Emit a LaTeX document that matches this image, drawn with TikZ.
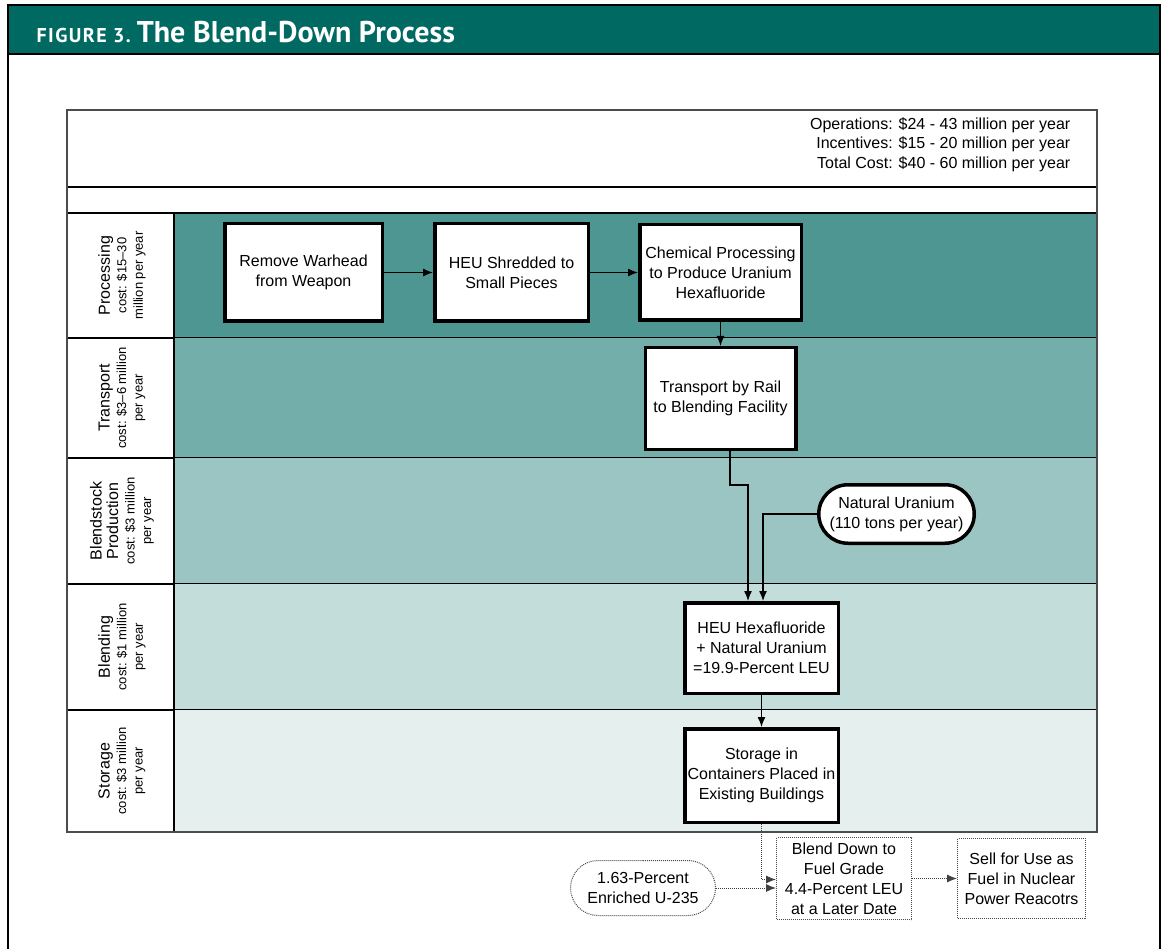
\documentclass[tikz,border=0pt]{standalone}
\usepackage{fontspec}
\setmainfont{Liberation Sans}
\newfontfamily\titlefont{PT Sans}
\newfontfamily\capsfont[LetterSpace=7]{PT Sans}
\usetikzlibrary{arrows.meta, shapes, positioning}
\definecolor{headteal}{RGB}{0,106,98}
\definecolor{laneA}{RGB}{78,150,145}
\definecolor{laneB}{RGB}{115,174,170}
\definecolor{laneC}{RGB}{155,197,194}
\definecolor{laneD}{RGB}{194,221,218}
\definecolor{laneE}{RGB}{228,239,238}

\begin{document}
\begin{tikzpicture}[x=1pt,y=-1pt,>={Latex[length=10pt,width=8pt]},line width=1.3pt]

	\tikzset{box st/.style={draw, line width=3.5pt, fill=white,
			align=center, inner sep=2pt,
			font=\fontsize{16}{20}\selectfont}}
	\tikzset{box dot/.style={draw=black!70, densely dotted, line width=1pt,
			fill=white, align=center, inner sep=2pt,
			font=\fontsize{16}{20}\selectfont}}
	\tikzset{lane lbl/.style={rotate=90, align=center,
			font=\fontsize{13}{16.5}\selectfont}}

	\useasboundingbox (0,0) rectangle (1162,949);
	\fill[white] (0,0) rectangle (1162,949);

	% frame and title
	\fill[headteal] (8,5) rectangle (1160,54);
	\draw[line width=1.6pt] (8,960) -- (8,5) -- (1160,5) -- (1160,960);
	\draw[line width=1.6pt] (8,54) -- (1160,54);
	\node[anchor=west, text=white, inner sep=0pt] (title) at (36,32)
	{{\capsfont\bfseries\fontsize{20}{20}\selectfont FIGURE 3.}\hspace{6pt}{\titlefont\bfseries\fontsize{30}{32}\selectfont The Blend-Down Process}};

	% swimlanes
	\foreach \ya/\yb/\col/\txt in {
		213/338/laneA/{{\fontsize{16}{20}\selectfont Processing}\\cost: \$15--30\\million per year},
		338/458/laneB/{{\fontsize{16}{20}\selectfont Transport}\\cost: \$3--6 million\\per year},
		458/584/laneC/{{\fontsize{16}{19}\selectfont Blendstock}\\{\fontsize{16}{20}\selectfont Production}\\cost: \$3 million\\per year},
		584/710/laneD/{{\fontsize{16}{20}\selectfont Blending}\\cost: \$1 million\\per year},
		710/832/laneE/{{\fontsize{16}{20}\selectfont Storage}\\cost: \$3 million\\per year}} {
		\fill[\col] (174,\ya) rectangle (1097,\yb);
		\draw[line width=1.2pt] (67,\yb) -- (1097,\yb);
		\draw[line width=1.2pt] (174,\ya) -- (174,\yb);
		\node[lane lbl] at (122,{(\ya+\yb)/2}) {\txt};
	}
	\draw[line width=1.2pt] (67,187) -- (1097,187);
	\draw[line width=1.2pt] (67,213) -- (1097,213);
	\draw[line width=1.8pt, draw=black!70] (67,110) rectangle (1097,832);

	\node[anchor=north east, align=right, inner sep=0pt,
	font=\fontsize{16}{19.5}\selectfont] (cost) at (1071,117)
	{Operations: \$24 - 43 million per year\\
		Incentives: \$15 - 20 million per year\\
		Total Cost: \$40 - 60 million per year};

	% process steps
	\node[box st, minimum width=157.5, minimum height=97.5] (rw) at (303.5,272.5) {Remove Warhead\\from Weapon};
	\node[box st, minimum width=153.5, minimum height=97.5, right=49pt of rw] (heu) {HEU Shredded to\\Small Pieces};
	\node[box st, minimum width=161.5, minimum height=95.5, right=48pt of heu] (chem) {Chemical Processing\\to Produce Uranium\\Hexafluoride};
	\node[box st, minimum width=150.5, minimum height=101.5, below=24pt of chem] (rail) {Transport by Rail\\to Blending Facility};
	\node[box st, rounded rectangle, minimum width=159.5, minimum height=58.5] (natu) at (896.5,514) {Natural Uranium\\(110 tons per year)};
	\node[box st, minimum width=153.5, minimum height=90.5] (hexa) at (761.5,648) {HEU Hexafluoride\\+ Natural Uranium\\=19.9-Percent LEU};
	\node[box st, minimum width=153.5, minimum height=93.5, below=32pt of hexa] (store) {Storage in\\Containers Placed in\\Existing Buildings};

	% later steps
	\node[box dot, minimum width=135, minimum height=82] (down) at (844,878.5) {Blend Down to\\Fuel Grade\\4.4-Percent LEU\\at a Later Date};
	\node[box dot, minimum width=128, minimum height=80, right=45pt of down] (sell) {Sell for Use as\\Fuel in Nuclear\\Power Reacotrs};
	\node[box dot, rounded rectangle, minimum width=149, minimum height=55] (enr) at (643,888) {1.63-Percent\\Enriched U-235};

	\draw[->] (rw) -- (heu);
	\draw[->] (heu) -- (chem);
	\draw[->] (chem) -- (rail);
	\draw[->] ([xshift=9.5pt]rail.south) -- ++(0,34) -| ([xshift=-13.5pt]hexa.north);
	\draw[->] (natu.west) -| ([xshift=1.5pt]hexa.north);
	\draw[->] (hexa) -- (store);
	\draw[->, densely dotted, line width=1pt, draw=black!75] (store.south) |- ([yshift=-1pt]down.west);
	\draw[->, densely dotted, line width=1pt, draw=black!75] (enr.east) -- (enr.east -| down.west);
	\draw[->, densely dotted, line width=1pt, draw=black!75] (down) -- (sell);
\end{tikzpicture}
\end{document}
